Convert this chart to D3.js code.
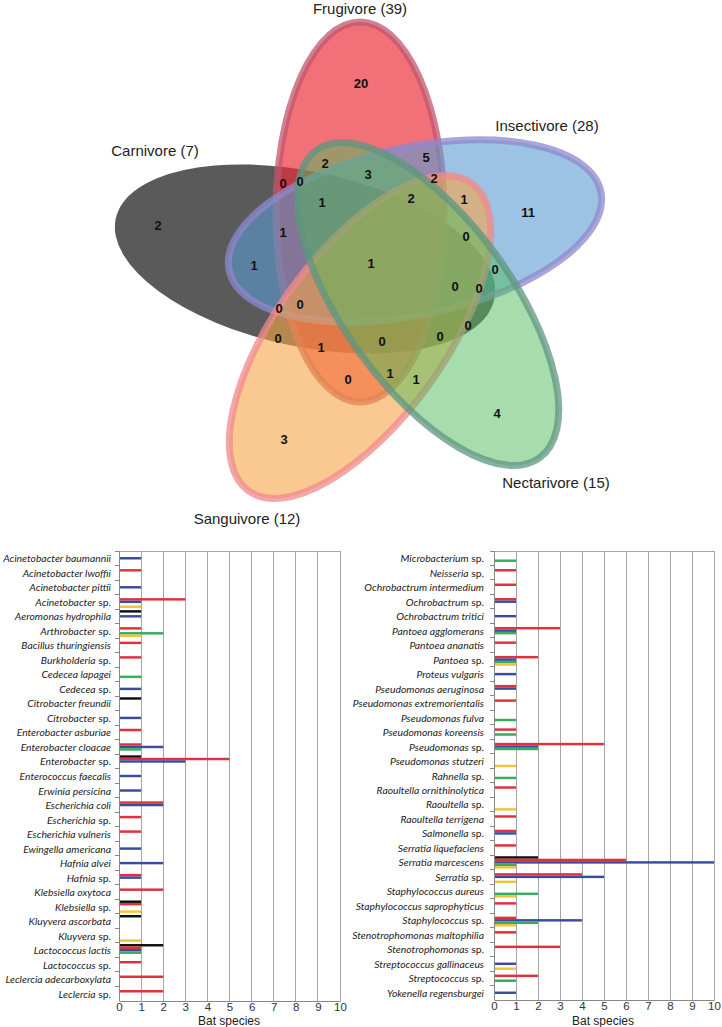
<!DOCTYPE html>
<html><head><meta charset="utf-8">
<script src="https://cdn.jsdelivr.net/npm/d3@7"></script>
<style>body{margin:0;background:#fff} svg{display:block}</style>
</head><body><svg id="c" width="722" height="1027"></svg>
<script>
// ---------- DATA ----------
const vennSets = ["Carnivore","Frugivore","Insectivore","Nectarivore","Sanguivore"];
const vennSetSizes = [7,39,28,15,12];
const vennRegionCounts = [20,2,3,0,0,1,2,1,1,1,5,2,2,1,11,0,0,0,0,0,1,0,0,1,3,0,0,0,0,1,4];

const dietSeries = ["Carnivore","Frugivore","Insectivore","Nectarivore","Sanguivore"];
const tickValues = [0,1,2,3,4,5,6,7,8,9,10];

const leftCategories = ["Acinetobacter baumannii","Acinetobacter lwoffii","Acinetobacter pittii","Acinetobacter sp.","Aeromonas hydrophila","Arthrobacter sp.","Bacillus thuringiensis","Burkholderia sp.","Cedecea lapagei","Cedecea sp.","Citrobacter freundii","Citrobacter sp.","Enterobacter asburiae","Enterobacter cloacae","Enterobacter sp.","Enterococcus faecalis","Erwinia persicina","Escherichia coli","Escherichia sp.","Escherichia vulneris","Ewingella americana","Hafnia alvei","Hafnia sp.","Klebsiella oxytoca","Klebsiella sp.","Kluyvera ascorbata","Kluyvera sp.","Lactococcus lactis","Lactococcus sp.","Leclercia adecarboxylata","Leclercia sp."];
const leftCarnivore   = [0,0,0,0,1, 0,0,0,0,0, 1,0,0,0,1, 0,0,0,0,0, 0,0,0,0,1, 1,0,2,0,0, 0];
const leftFrugivore   = [0,1,0,3,0, 1,1,1,0,0, 0,0,1,1,5, 0,0,2,1,1, 0,0,1,2,1, 0,0,1,1,2, 2];
const leftInsectivore = [1,0,1,1,1, 0,0,0,0,1, 0,1,0,2,3, 1,1,2,0,0, 1,2,1,0,0, 0,0,1,0,0, 0];
const leftNectarivore = [0,0,0,0,0, 2,0,0,1,0, 0,0,0,1,0, 0,0,0,0,0, 0,0,0,0,0, 0,0,1,0,0, 0];
const leftSanguivore  = [0,0,0,1,0, 1,0,0,0,0, 0,0,0,0,0, 0,0,0,0,0, 0,0,0,0,1, 0,1,0,0,0, 0];

const rightCategories = ["Microbacterium sp.","Neisseria sp.","Ochrobactrum intermedium","Ochrobactrum sp.","Ochrobactrum tritici","Pantoea agglomerans","Pantoea ananatis","Pantoea sp.","Proteus vulgaris","Pseudomonas aeruginosa","Pseudomonas extremorientalis","Pseudomonas fulva","Pseudomonas koreensis","Pseudomonas sp.","Pseudomonas stutzeri","Rahnella sp.","Raoultella ornithinolytica","Raoultella sp.","Raoultella terrigena","Salmonella sp.","Serratia liquefaciens","Serratia marcescens","Serratia sp.","Staphylococcus aureus","Staphylococcus saprophyticus","Staphylococcus sp.","Stenotrophomonas maltophilia","Stenotrophomonas sp.","Streptococcus gallinaceus","Streptococcus sp.","Yokenella regensburgei"];
const rightCarnivore   = [0,0,0,0,0, 0,0,0,0,0, 0,0,0,0,0, 0,0,0,0,0, 0,2,0,0,0, 0,0,0,0,0, 0];
const rightFrugivore   = [0,1,1,1,0, 3,1,2,0,1, 1,0,1,5,0, 0,1,0,1,1, 1,6,4,0,1, 1,1,3,0,2, 0];
const rightInsectivore = [0,0,0,1,1, 1,0,1,1,1, 0,0,0,2,0, 0,0,0,0,1, 0,10,5,0,0, 4,0,0,1,0, 1];
const rightNectarivore = [1,0,0,0,0, 1,0,1,0,0, 0,1,1,2,0, 1,0,0,0,0, 0,1,0,2,0, 2,0,0,0,1, 0];
const rightSanguivore  = [0,0,0,0,0, 0,0,1,0,0, 0,0,0,0,1, 0,0,1,0,0, 0,1,1,1,0, 1,0,0,1,0, 0];

// ---------- LAYOUT / STYLE ----------
const svg = d3.select("#c");

const vennEllipses = {
  Carnivore:   {cx:305, cy:259, rot:12,  fill:"#262626", fo:0.76, stroke:"none",    grow:3.5},
  Frugivore:   {cx:360, cy:212, rot:90,  fill:"#ec2c38", fo:0.68, stroke:"#c0566c", grow:0},
  Insectivore: {cx:415, cy:231, rot:-12, fill:"#5c9bd2", fo:0.6,  stroke:"#8d88cc", grow:0},
  Sanguivore:  {cx:360, cy:337, rot:-54, fill:"#f7a348", fo:0.6,  stroke:"#f08a8e", grow:0},
  Nectarivore: {cx:428, cy:304, rot:54,  fill:"#4fbb5a", fo:0.5,  stroke:"#5f9580", grow:0}
};
const drawOrder = ["Carnivore","Frugivore","Insectivore","Sanguivore","Nectarivore"];
const ellRx = 190, ellRy = 84;

const vg = svg.append("g");
drawOrder.forEach(name => {
  const e = vennEllipses[name];
  vg.append("ellipse")
    .attr("rx",ellRx + e.grow).attr("ry",ellRy + e.grow)
    .attr("transform",`translate(${e.cx},${e.cy}) rotate(${e.rot})`)
    .attr("fill",e.fill).attr("fill-opacity",e.fo)
    .attr("stroke",e.stroke).attr("stroke-opacity",0.75).attr("stroke-width",7);
});

const vennRegionXY = [[361,83],[325,163],[368,174],[283,183],[300,181],[322,202],[158,225],[283,232],[254,265],[371,263],
  [426,157],[434,178],[411,198],[464,199],[528,212],[466,236],[495,269],[279,308],[300,304],[278,338],
  [321,347],[382,341],[348,379],[390,373],[284,439],[455,286],[479,288],[468,325],[440,336],[416,379],[497,413]];
vg.selectAll("text.cnt").data(vennRegionCounts).join("text").attr("class","cnt")
  .attr("x",(d,i)=>vennRegionXY[i][0]).attr("y",(d,i)=>vennRegionXY[i][1])
  .attr("text-anchor","middle").attr("dominant-baseline","central")
  .attr("font-family","Liberation Sans, Arial, sans-serif").attr("font-weight","bold")
  .attr("font-size",13).attr("fill","#111").text(d=>d);

const vennLabelXY = {Carnivore:[155,150],Frugivore:[360,8],Insectivore:[547,125],Nectarivore:[556,482],Sanguivore:[247,518]};
vg.selectAll("text.lbl").data(vennSets).join("text").attr("class","lbl")
  .attr("x",d=>vennLabelXY[d][0]).attr("y",d=>vennLabelXY[d][1])
  .attr("text-anchor","middle").attr("dominant-baseline","central")
  .attr("font-family","Liberation Sans, Arial, sans-serif").attr("font-size",15).attr("fill","#222")
  .text((d,i)=>`${d} (${vennSetSizes[i]})`);

// ---------- BAR PANELS ----------
const seriesColors = {Carnivore:"#111111",Frugivore:"#e2303c",Insectivore:"#3b4c9e",Nectarivore:"#33ad5e",Sanguivore:"#f4c238"};
const labelFont = "Lato, 'Open Sans', sans-serif";

const probe = svg.append("text").attr("font-family",labelFont).attr("font-size",10).attr("font-style","italic")
  .text("Acinetobacter baumannii");
const labelSize = Math.min(11, 10 * 108 / probe.node().getComputedTextLength());
probe.remove();

function drawPanel(cats, seriesArrays, x0, x1, y0, y1, labelRight, titleX) {
  const g = svg.append("g");
  const x = d3.scaleLinear().domain([0,10]).range([x0,x1]);
  const y = d3.scaleBand().domain(cats).range([y0,y1]).paddingInner(0.15).paddingOuter(0.075);
  const yOuter = d3.scaleBand().domain(cats).range([y0,y1]);
  const ys = d3.scaleBand().domain(dietSeries).range([0,y.bandwidth()]);

  g.selectAll("line.grid").data(tickValues.slice(1)).join("line")
    .attr("x1",d=>x(d)).attr("x2",d=>x(d)).attr("y1",y0).attr("y2",y1)
    .attr("stroke","#a6a6a6").attr("stroke-width",1).attr("shape-rendering","crispEdges");
  g.append("line").attr("x1",x0).attr("x2",x1).attr("y1",y0).attr("y2",y0)
    .attr("stroke","#a6a6a6").attr("shape-rendering","crispEdges");

  const rows = [];
  cats.forEach((c,i)=>dietSeries.forEach((s,j)=>{ const v = seriesArrays[j][i]; if(v>0) rows.push({c,s,v}); }));
  g.selectAll("rect.bar").data(rows).join("rect")
    .attr("x",x(0)).attr("width",d=>x(d.v)-x(0))
    .attr("y",d=>y(d.c)+ys(d.s)).attr("height",ys.bandwidth())
    .attr("fill",d=>seriesColors[d.s]);

  const xa = g.append("g").attr("transform",`translate(0,${y1})`)
    .call(d3.axisBottom(x).tickValues(tickValues).tickSize(0).tickPadding(2));
  xa.select(".domain").attr("stroke","#888");
  xa.selectAll("text").attr("font-family","Liberation Sans, Arial, sans-serif").attr("font-size",11.5).attr("fill","#333");

  g.append("line").attr("x1",x0).attr("x2",x0).attr("y1",y0).attr("y2",y1)
    .attr("stroke","#888").attr("shape-rendering","crispEdges");
  g.selectAll("line.yt").data(cats).join("line")
    .attr("x1",x0-4).attr("x2",x0).attr("y1",d=>yOuter(d)).attr("y2",d=>yOuter(d))
    .attr("stroke","#888").attr("shape-rendering","crispEdges");

  const lab = g.selectAll("text.cat").data(cats).join("text")
    .attr("x",labelRight).attr("y",d=>y(d)+y.bandwidth()/2)
    .attr("text-anchor","end").attr("dominant-baseline","central")
    .attr("font-family",labelFont).attr("font-size",labelSize).attr("fill","#222");
  lab.each(function(d){
    const t = d3.select(this);
    if (d.endsWith(" sp.")) {
      t.append("tspan").attr("font-style","italic").text(d.slice(0,-4));
      t.append("tspan").text(" sp.");
    } else {
      t.append("tspan").attr("font-style","italic").text(d);
    }
  });

  g.append("text").attr("x",titleX).attr("y",1021).attr("text-anchor","middle")
    .attr("dominant-baseline","central")
    .attr("font-family","Liberation Sans, Arial, sans-serif").attr("font-size",12).attr("fill","#222")
    .text("Bat species");
}

drawPanel(leftCategories, [leftCarnivore,leftFrugivore,leftInsectivore,leftNectarivore,leftSanguivore],
  119, 340, 551, 1001, 111, 229);
drawPanel(rightCategories, [rightCarnivore,rightFrugivore,rightInsectivore,rightNectarivore,rightSanguivore],
  494, 714, 551, 1000, 484, 603);
</script>
</body></html>
